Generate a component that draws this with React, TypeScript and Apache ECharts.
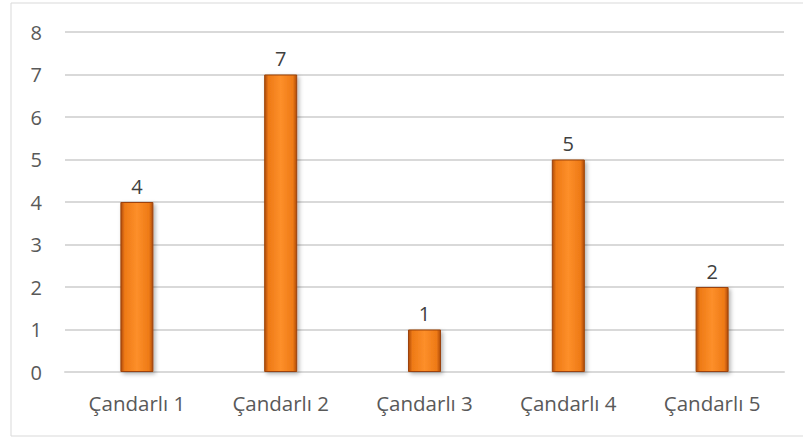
import React, { useEffect, useRef } from "react";
import * as echarts from "echarts";

const categories = ["Çandarlı 1", "Çandarlı 2", "Çandarlı 3", "Çandarlı 4", "Çandarlı 5"];
const values = [4, 7, 1, 5, 2];
const yTicks = { min: 0, max: 8, interval: 1 };

export default function App() {
  const ref = useRef<HTMLDivElement>(null);
  useEffect(() => {
    if (!ref.current) return;
    const chart = echarts.init(ref.current, undefined, { renderer: "svg" });
    const font = "'Open Sans', sans-serif";
    chart.setOption({
      animation: false,
      backgroundColor: "#ffffff",
      graphic: [
        {
          type: "rect",
          shape: { x: 11, y: 3, width: 800, height: 433 },
          style: { fill: "none", stroke: "#d9d9d9", lineWidth: 1 },
          silent: true,
        },
      ],
      grid: { left: 65, right: 19, top: 32, bottom: 65, containLabel: false },
      xAxis: {
        type: "category",
        data: categories,
        axisLine: { show: true, lineStyle: { color: "#d9d9d9", width: 2 } },
        axisTick: { show: false },
        axisLabel: { color: "#595959", fontSize: 20.5, fontFamily: font, margin: 20 },
      },
      yAxis: {
        type: "value",
        min: yTicks.min,
        max: yTicks.max,
        interval: yTicks.interval,
        axisLine: { show: false },
        axisTick: { show: false },
        splitLine: { lineStyle: { color: "#d9d9d9", width: 2 } },
        axisLabel: { color: "#595959", fontSize: 20, fontFamily: font, margin: 23 },
      },
      series: [
        {
          type: "bar",
          data: values,
          barWidth: 33,
          itemStyle: {
            color: new echarts.graphic.LinearGradient(0, 0, 1, 0, [
              { offset: 0, color: "#b04c0a" },
              { offset: 0.12, color: "#ee7a16" },
              { offset: 0.5, color: "#fd8f2a" },
              { offset: 0.88, color: "#ee7a16" },
              { offset: 1, color: "#b04c0a" },
            ]),
            borderColor: "#9c4308",
            borderWidth: 1,
            shadowColor: "rgba(0,0,0,0.3)",
            shadowBlur: 4,
            shadowOffsetX: 2,
            shadowOffsetY: 2,
          },
          label: {
            show: true,
            position: "top",
            distance: 6,
            color: "#404040",
            fontSize: 20,
            fontFamily: font,
          },
        },
      ],
    });
    return () => chart.dispose();
  }, []);
  return (
    <div
      ref={ref}
      style={{ position: "fixed", left: 0, top: 0, width: 803, height: 437 }}
    />
  );
}
